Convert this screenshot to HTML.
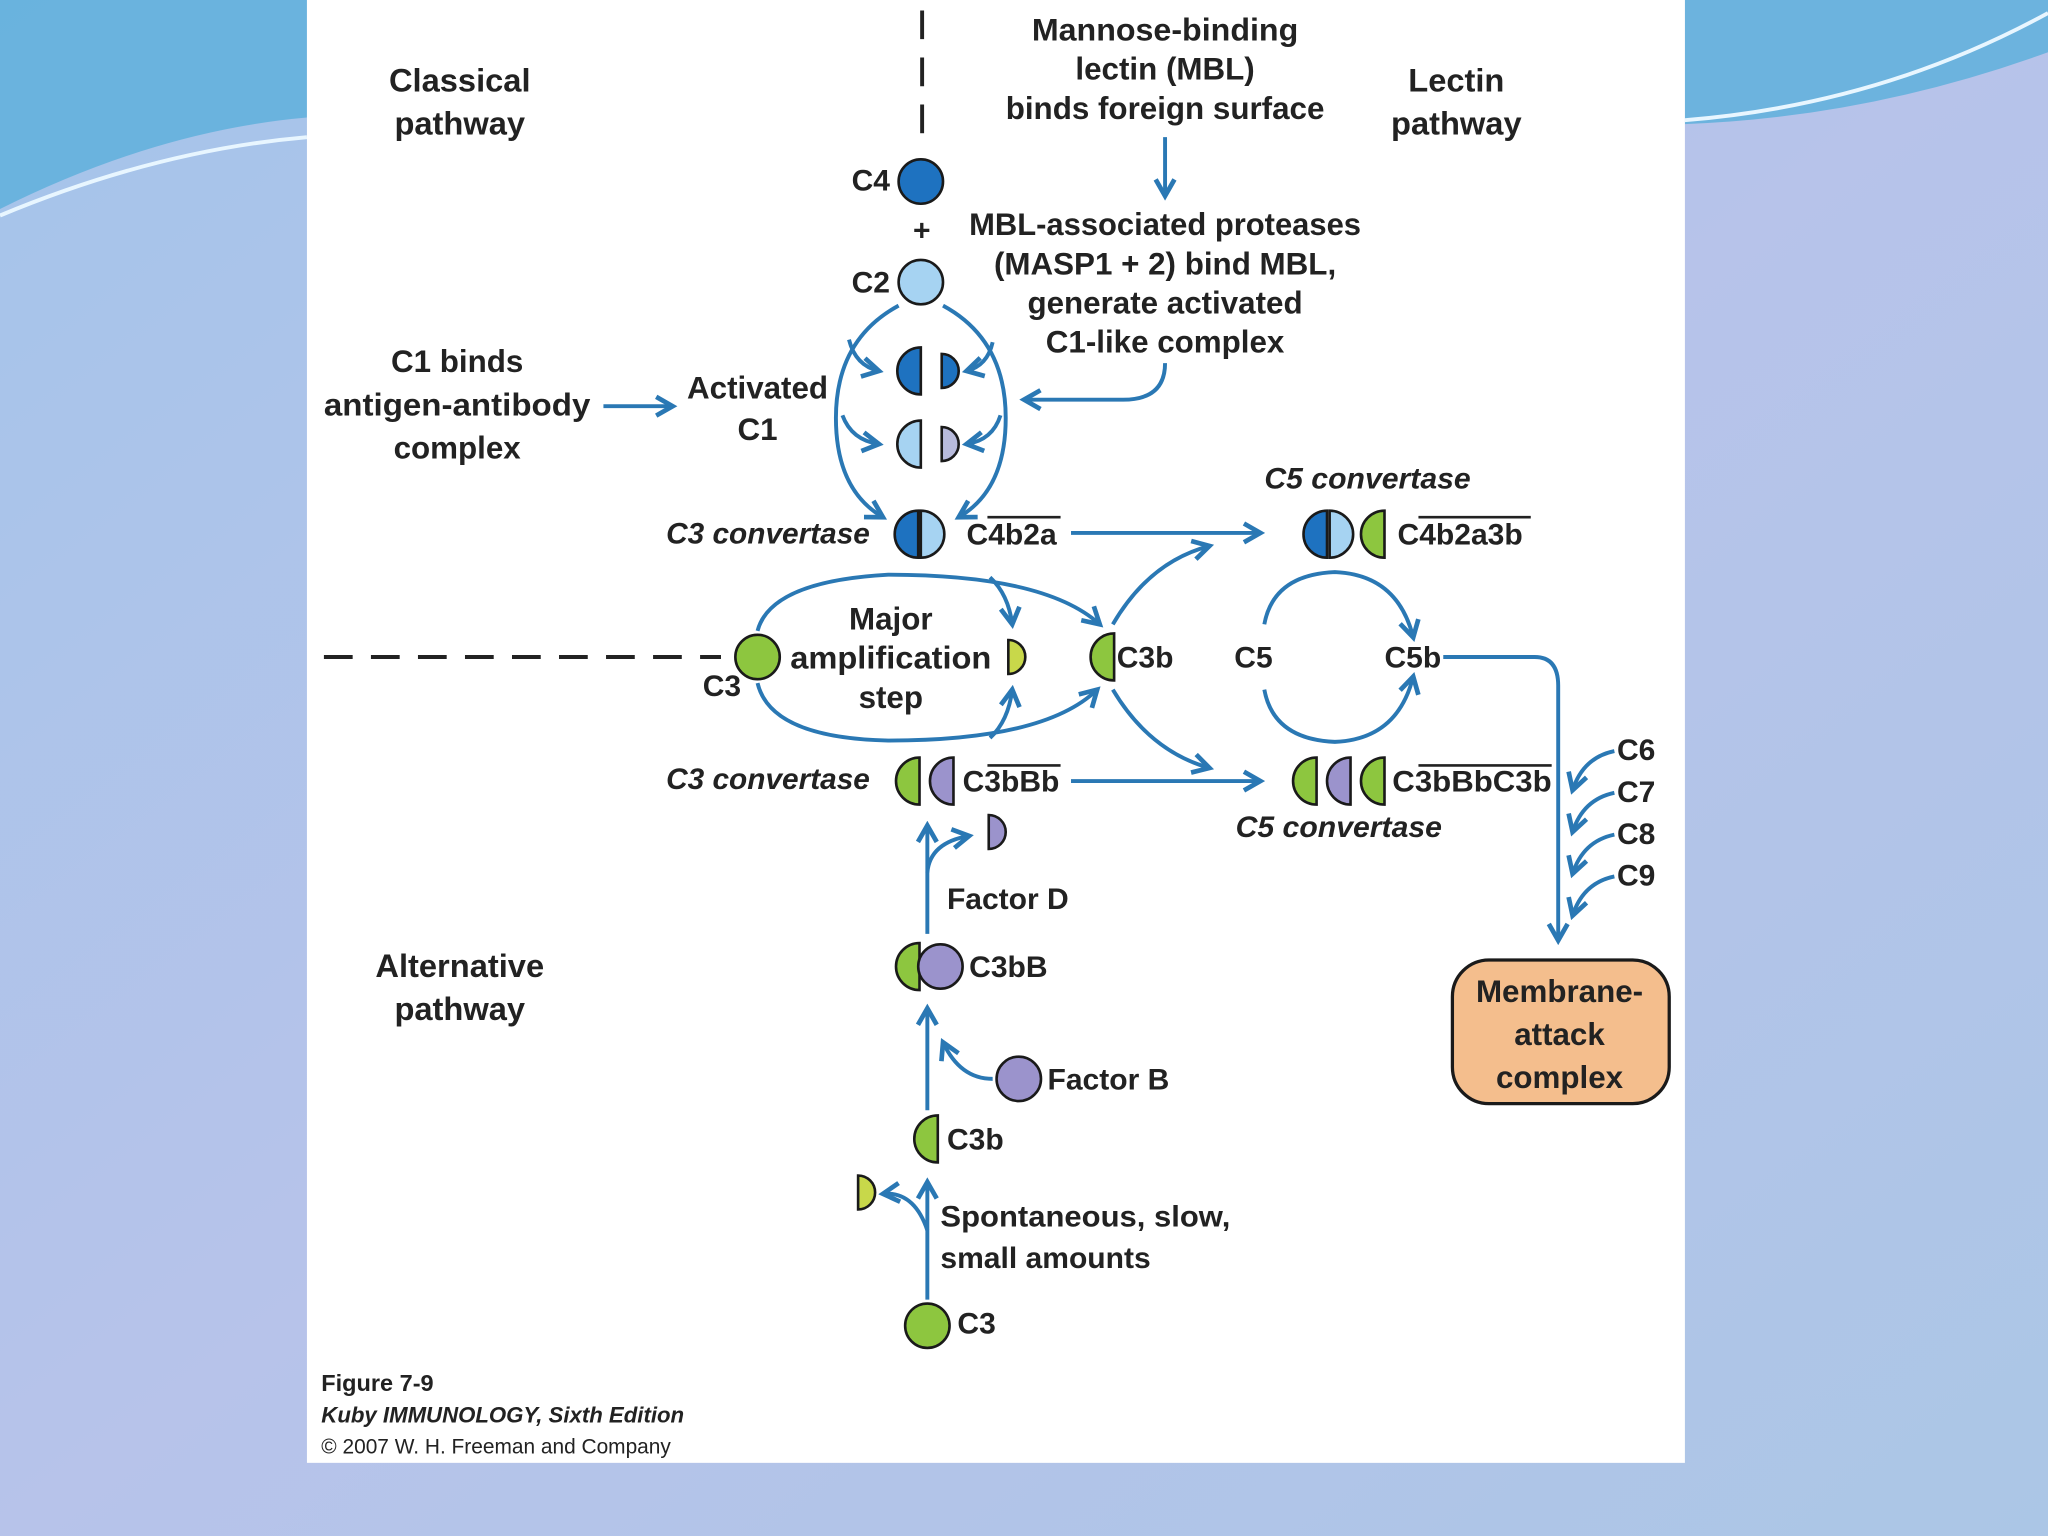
<!DOCTYPE html>
<html><head><meta charset="utf-8"><style>
html,body{margin:0;padding:0;width:2048px;height:1536px;overflow:hidden;background:#aec3e6}
svg{display:block}
text{font-family:"Liberation Sans",sans-serif;font-weight:bold;fill:#222}
</style></head><body>
<svg width="2048" height="1536" viewBox="0 0 1568 1176" xmlns="http://www.w3.org/2000/svg">
<defs>
<linearGradient id="bg" x1="0" y1="0" x2="1" y2="1">
<stop offset="0" stop-color="#a4c4ea"/><stop offset="0.5" stop-color="#b7c3ea"/><stop offset="1" stop-color="#abc6e6"/></linearGradient>
<marker id="ah" viewBox="0 0 10 10" refX="8" refY="5" markerWidth="6" markerHeight="6" orient="auto"><path d="M1,1 L8,5 L1,9" fill="none" stroke="#2a78b4" stroke-width="2"/></marker>
</defs>
<rect width="1568" height="1176" fill="url(#bg)"/>
<path d="M0,0 L235,0 L235,90 Q120,100 0,160 Z" fill="#5fb0dc" opacity="0.85"/>
<path d="M0,165 Q120,115 235,105" stroke="#e8f6ff" stroke-width="3" fill="none"/>
<path d="M1290,0 L1568,0 L1568,40 Q1430,90 1290,95 Z" fill="#5fb0dc" opacity="0.85"/>
<path d="M1290,92 Q1440,80 1568,10" stroke="#e8f6ff" stroke-width="3" fill="none"/>
<rect x="235" y="0" width="1055" height="1120" fill="#fff"/>

<g stroke="#2a78b4" stroke-width="3" fill="none">
<line x1="706" y1="8" x2="706" y2="108" stroke="#222" stroke-dasharray="22,14"/>
<line x1="248" y1="503" x2="552" y2="503" stroke="#222" stroke-dasharray="22,14"/>
<line x1="892" y1="105" x2="892" y2="150" marker-end="url(#ah)"/>
<line x1="462" y1="311" x2="515" y2="311" marker-end="url(#ah)"/>
<path d="M892,278 Q892,306 860,306 L784,306" marker-end="url(#ah)"/>
<path d="M688,234 Q640,260 640,320 Q640,375 676,396" marker-end="url(#ah)"/>
<path d="M722,234 Q770,260 770,320 Q770,375 734,396" marker-end="url(#ah)"/>
<path d="M650,260 Q655,280 673,284" marker-end="url(#ah)"/>
<path d="M645,318 Q652,337 673,340" marker-end="url(#ah)"/>
<path d="M760,262 Q756,280 740,284" marker-end="url(#ah)"/>
<path d="M766,318 Q760,337 740,340" marker-end="url(#ah)"/>
<line x1="820" y1="408" x2="965" y2="408" marker-end="url(#ah)"/>
<line x1="820" y1="598" x2="965" y2="598" marker-end="url(#ah)"/>
<path d="M580,483 Q590,445 680,440 Q800,440 842,478" marker-end="url(#ah)"/>
<path d="M580,523 Q590,565 680,567 Q800,567 840,528" marker-end="url(#ah)"/>
<path d="M758,442 Q772,455 775,478" marker-end="url(#ah)"/>
<path d="M758,565 Q772,552 775,528" marker-end="url(#ah)"/>
<path d="M852,478 Q880,430 926,418" marker-end="url(#ah)"/>
<path d="M852,528 Q880,575 926,588" marker-end="url(#ah)"/>
<path d="M968,478 Q975,440 1022,438 Q1070,440 1082,488" marker-end="url(#ah)"/>
<path d="M968,528 Q975,566 1022,568 Q1070,566 1082,518" marker-end="url(#ah)"/>
<path d="M1105,503 L1175,503 Q1193,503 1193,525 L1193,720" marker-end="url(#ah)"/>
<path d="M1236,575 Q1212,580 1204,605" marker-end="url(#ah)"/>
<path d="M1236,607 Q1212,612 1204,637" marker-end="url(#ah)"/>
<path d="M1236,639 Q1212,644 1204,669" marker-end="url(#ah)"/>
<path d="M1236,671 Q1212,676 1204,701" marker-end="url(#ah)"/>
<line x1="710" y1="715" x2="710" y2="632" marker-end="url(#ah)"/>
<path d="M710,668 Q712,645 742,640" marker-end="url(#ah)"/>
<line x1="710" y1="850" x2="710" y2="772" marker-end="url(#ah)"/>
<path d="M760,826 Q735,826 722,798" marker-end="url(#ah)"/>
<line x1="710" y1="995" x2="710" y2="905" marker-end="url(#ah)"/>
<path d="M710,942 Q700,912 676,914" marker-end="url(#ah)"/>
</g>

<g stroke="#1a1a1a" stroke-width="2">
<circle cx="705" cy="139" r="17" fill="#1e72c0"/>
<circle cx="705" cy="216" r="17" fill="#a6d3f2"/>
<path d="M705,266 A18,18 0 0 0 705,302 Z" fill="#1e72c0"/>
<path d="M721,271 A13,13 0 0 1 721,297 Z" fill="#1e72c0"/>
<path d="M705,322 A18,18 0 0 0 705,358 Z" fill="#a6d3f2"/>
<path d="M721,327 A13,13 0 0 1 721,353 Z" fill="#b8bbdc"/>
<path d="M703,391 A18,18 0 0 0 703,427 Z" fill="#1e72c0"/>
<path d="M705,391 A18,18 0 0 1 705,427 Z" fill="#a6d3f2"/>
<path d="M1016,391 A18,18 0 0 0 1016,427 Z" fill="#1e72c0"/>
<path d="M1018,391 A18,18 0 0 1 1018,427 Z" fill="#a6d3f2"/>
<path d="M1060,391 A18,18 0 0 0 1060,427 Z" fill="#8dc63f"/>
<circle cx="580" cy="503" r="17" fill="#8dc63f"/>
<path d="M772,490 A13,13 0 0 1 772,516 Z" fill="#c8d84a"/>
<path d="M853,485 A18,18 0 0 0 853,521 Z" fill="#8dc63f"/>
<path d="M704,580 A18,18 0 0 0 704,616 Z" fill="#8dc63f"/>
<path d="M730,580 A18,18 0 0 0 730,616 Z" fill="#9b93cc"/>
<path d="M1008,580 A18,18 0 0 0 1008,616 Z" fill="#8dc63f"/>
<path d="M1034,580 A18,18 0 0 0 1034,616 Z" fill="#9b93cc"/>
<path d="M1060,580 A18,18 0 0 0 1060,616 Z" fill="#8dc63f"/>
<path d="M757,624 A13,13 0 0 1 757,650 Z" fill="#9b93cc"/>
<path d="M704,722 A18,18 0 0 0 704,758 Z" fill="#8dc63f"/>
<circle cx="720" cy="740" r="17" fill="#9b93cc"/>
<circle cx="780" cy="826" r="17" fill="#9b93cc"/>
<path d="M718,854 A18,18 0 0 0 718,890 Z" fill="#8dc63f"/>
<path d="M657,900 A13,13 0 0 1 657,926 Z" fill="#c8d84a"/>
<circle cx="710" cy="1015" r="17" fill="#8dc63f"/>
<rect x="1112" y="735" width="166" height="110" rx="28" fill="#f4be8d" stroke-width="2.5"/>
</g>

<g font-size="24">
<text x="352" y="70" text-anchor="middle" font-size="25">Classical</text>
<text x="352" y="103" text-anchor="middle" font-size="25">pathway</text>
<text x="1115" y="70" text-anchor="middle" font-size="25">Lectin</text>
<text x="1115" y="103" text-anchor="middle" font-size="25">pathway</text>
<text x="352" y="748" text-anchor="middle" font-size="25">Alternative</text>
<text x="352" y="781" text-anchor="middle" font-size="25">pathway</text>
<g text-anchor="middle" font-size="24">
<text x="892" y="31" textLength="204" lengthAdjust="spacingAndGlyphs">Mannose-binding</text>
<text x="892" y="61">lectin (MBL)</text>
<text x="892" y="91" textLength="244" lengthAdjust="spacingAndGlyphs">binds foreign surface</text>
<text x="892" y="180" textLength="300" lengthAdjust="spacingAndGlyphs">MBL-associated proteases</text>
<text x="892" y="210" textLength="262" lengthAdjust="spacingAndGlyphs">(MASP1 + 2) bind MBL,</text>
<text x="892" y="240">generate activated</text>
<text x="892" y="270">C1-like complex</text>
<text x="350" y="285">C1 binds</text>
<text x="350" y="318" textLength="204" lengthAdjust="spacingAndGlyphs">antigen-antibody</text>
<text x="350" y="351">complex</text>
<text x="580" y="305">Activated</text>
<text x="580" y="337">C1</text>
<text x="682" y="482">Major</text>
<text x="682" y="512" textLength="154" lengthAdjust="spacingAndGlyphs">amplification</text>
<text x="682" y="542">step</text>
<text x="1194" y="767">Membrane-</text>
<text x="1194" y="800">attack</text>
<text x="1194" y="833">complex</text>
</g>
<g font-size="23">
<text x="652" y="146">C4</text>
<text x="699" y="184">+</text>
<text x="652" y="224">C2</text>
<text x="510" y="416" font-style="italic" textLength="156" lengthAdjust="spacingAndGlyphs">C3 convertase</text>
<text x="740" y="417">C4b2a</text>
<line x1="756" y1="396" x2="812" y2="396" stroke="#222" stroke-width="2"/>
<text x="968" y="374" font-style="italic" textLength="158" lengthAdjust="spacingAndGlyphs">C5 convertase</text>
<text x="1070" y="417">C4b2a3b</text>
<line x1="1086" y1="396" x2="1172" y2="396" stroke="#222" stroke-width="2"/>
<text x="538" y="533">C3</text>
<text x="855" y="511">C3b</text>
<text x="945" y="511">C5</text>
<text x="1060" y="511">C5b</text>
<text x="510" y="604" font-style="italic" textLength="156" lengthAdjust="spacingAndGlyphs">C3 convertase</text>
<text x="737" y="606">C3bBb</text>
<line x1="756" y1="586" x2="812" y2="586" stroke="#222" stroke-width="2"/>
<text x="1066" y="606" textLength="122" lengthAdjust="spacingAndGlyphs">C3bBbC3b</text>
<line x1="1086" y1="586" x2="1188" y2="586" stroke="#222" stroke-width="2"/>
<text x="946" y="641" font-style="italic" textLength="158" lengthAdjust="spacingAndGlyphs">C5 convertase</text>
<text x="1238" y="582">C6</text>
<text x="1238" y="614">C7</text>
<text x="1238" y="646">C8</text>
<text x="1238" y="678">C9</text>
<text x="725" y="696">Factor D</text>
<text x="742" y="748">C3bB</text>
<text x="802" y="834">Factor B</text>
<text x="725" y="880">C3b</text>
<text x="720" y="939" textLength="222" lengthAdjust="spacingAndGlyphs">Spontaneous, slow,</text>
<text x="720" y="971">small amounts</text>
<text x="733" y="1021">C3</text>
</g>
<text x="246" y="1065" font-size="18">Figure 7-9</text>
<text x="246" y="1089" font-size="17" font-style="italic">Kuby IMMUNOLOGY, Sixth Edition</text>
<text x="246" y="1113" font-size="16" style="font-weight:normal">© 2007 W. H. Freeman and Company</text>
</g>
</svg>
</body></html>
